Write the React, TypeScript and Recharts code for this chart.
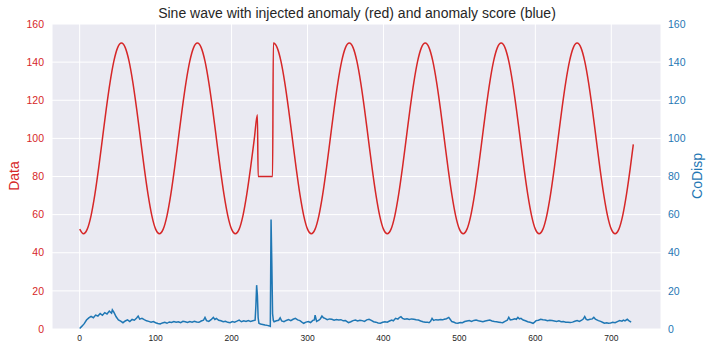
import { LineChart, Line, XAxis, YAxis, CartesianGrid } from "recharts";

// sine wave (t, value), every 5 steps plus the injected block
const sineData: [number, number][] = [
  [0, 52.4], [5, 50], [10, 52.4], [15, 59.5], [20, 70.6], [25, 84.5], [30, 100], [35, 115.5], [40, 129.4], [45, 140.5],
  [50, 147.6], [55, 150], [60, 147.6], [65, 140.5], [70, 129.4], [75, 115.5], [80, 100], [85, 84.5], [90, 70.6], [95, 59.5],
  [100, 52.4], [105, 50], [110, 52.4], [115, 59.5], [120, 70.6], [125, 84.5], [130, 100], [135, 115.5], [140, 129.4], [145, 140.5],
  [150, 147.6], [155, 150], [160, 147.6], [165, 140.5], [170, 129.4], [175, 115.5], [180, 100], [185, 84.5], [190, 70.6], [195, 59.5],
  [200, 52.4], [205, 50], [210, 52.4], [215, 59.5], [220, 70.6], [225, 84.5], [230, 100], [234, 112.4], [235, 80], [240, 80],
  [245, 80], [250, 80], [254, 80], [255, 150], [260, 147.6], [265, 140.5], [270, 129.4], [275, 115.5], [280, 100], [285, 84.5],
  [290, 70.6], [295, 59.5],
  [300, 52.4], [305, 50], [310, 52.4], [315, 59.5], [320, 70.6], [325, 84.5], [330, 100], [335, 115.5], [340, 129.4], [345, 140.5],
  [350, 147.6], [355, 150], [360, 147.6], [365, 140.5], [370, 129.4], [375, 115.5], [380, 100], [385, 84.5], [390, 70.6], [395, 59.5],
  [400, 52.4], [405, 50], [410, 52.4], [415, 59.5], [420, 70.6], [425, 84.5], [430, 100], [435, 115.5], [440, 129.4], [445, 140.5],
  [450, 147.6], [455, 150], [460, 147.6], [465, 140.5], [470, 129.4], [475, 115.5], [480, 100], [485, 84.5], [490, 70.6], [495, 59.5],
  [500, 52.4], [505, 50], [510, 52.4], [515, 59.5], [520, 70.6], [525, 84.5], [530, 100], [535, 115.5], [540, 129.4], [545, 140.5],
  [550, 147.6], [555, 150], [560, 147.6], [565, 140.5], [570, 129.4], [575, 115.5], [580, 100], [585, 84.5], [590, 70.6], [595, 59.5],
  [600, 52.4], [605, 50], [610, 52.4], [615, 59.5], [620, 70.6], [625, 84.5], [630, 100], [635, 115.5], [640, 129.4], [645, 140.5],
  [650, 147.6], [655, 150], [660, 147.6], [665, 140.5], [670, 129.4], [675, 115.5], [680, 100], [685, 84.5], [690, 70.6], [695, 59.5],
  [700, 52.4], [705, 50], [710, 52.4], [715, 59.5], [720, 70.6], [725, 84.5], [729, 96.9],
];

// anomaly score (t, CoDisp)
const codispData: [number, number][] = [
  [0, 0.3], [3, 1.5], [6, 2.8], [9, 4.7], [12, 5.8], [15, 6.6], [18, 5.9], [21, 7.3], [24, 6.8], [27, 8.1],
  [30, 7.2], [33, 8.6], [36, 7.9], [39, 9.4], [42, 8.3], [43, 10.0], [45, 8.8], [48, 6.4], [51, 4.8], [54, 4.1],
  [57, 3.3], [60, 4.2], [63, 4.8], [66, 3.9], [69, 5.0], [72, 4.6], [75, 5.8], [77, 6.8], [79, 5.2], [82, 5.6],
  [85, 4.9], [88, 4.3], [91, 4.0], [94, 3.6], [97, 3.9], [100, 3.3], [103, 2.9], [106, 2.6], [109, 3.2], [112, 3.5],
  [115, 3.0], [118, 3.7], [121, 3.4], [124, 3.9], [127, 3.5], [130, 3.8], [133, 3.3], [136, 4.0], [139, 3.8], [142, 3.4],
  [145, 3.9], [148, 3.6], [151, 4.1], [154, 3.7], [157, 3.5], [160, 4.2], [163, 4.6], [165, 6.1], [167, 4.4], [170, 4.0],
  [173, 4.9], [176, 6.1], [178, 5.0], [180, 5.5], [183, 4.6], [186, 4.3], [189, 3.8], [192, 4.0], [195, 3.5], [198, 3.3],
  [201, 3.9], [204, 3.6], [207, 4.1], [210, 4.7], [213, 3.8], [216, 4.3], [219, 3.9], [222, 4.4], [225, 4.0], [228, 4.3],
  [231, 4.6], [232, 12], [233, 23.0], [234, 17.5], [235, 6.0], [236, 3.0], [238, 2.6], [241, 2.4], [244, 2.1], [247, 1.9],
  [250, 1.6], [251, 1.4], [252, 57.5], [253, 34.5], [254, 8], [255, 4.5], [256, 3.8], [259, 4.3], [262, 4.6], [264, 5.9],
  [266, 4.2], [269, 3.8], [272, 4.5], [275, 4.9], [278, 4.4], [281, 5.1], [284, 5.6], [287, 4.8], [290, 4.4], [293, 3.5],
  [295, 3.0], [298, 3.6], [301, 3.9], [304, 3.4], [307, 4.5], [309, 4.8], [310, 7.3], [312, 4.0], [315, 4.6], [317, 5.4],
  [319, 6.8], [321, 5.9], [323, 5.6], [326, 4.9], [329, 5.3], [332, 5.1], [335, 4.6], [338, 5.0], [341, 4.7], [344, 4.9],
  [347, 4.3], [350, 4.4], [352, 3.9], [354, 3.3], [357, 3.8], [360, 4.4], [363, 4.7], [366, 4.2], [369, 4.6], [372, 4.4],
  [375, 4.0], [378, 4.8], [381, 5.1], [384, 4.5], [387, 3.8], [390, 3.6], [393, 3.2], [396, 3.0], [399, 3.5], [402, 3.8],
  [405, 3.6], [408, 4.2], [411, 4.7], [413, 4.3], [416, 5.6], [419, 5.2], [421, 6.0], [423, 6.5], [425, 5.6], [428, 5.1],
  [431, 5.4], [434, 5.0], [437, 5.3], [440, 5.1], [443, 4.8], [446, 4.7], [449, 4.2], [452, 3.8], [455, 3.5], [458, 3.6],
  [460, 3.3], [462, 4.0], [464, 5.6], [466, 4.5], [469, 4.9], [472, 4.7], [475, 5.0], [478, 4.8], [480, 5.1], [483, 5.4],
  [486, 6.1], [488, 5.0], [490, 3.9], [493, 3.5], [495, 3.2], [498, 3.0], [501, 3.4], [504, 3.3], [507, 3.9], [510, 4.2],
  [513, 4.4], [516, 4.0], [519, 4.5], [522, 4.7], [525, 4.3], [528, 4.1], [531, 3.8], [534, 4.2], [537, 4.5], [540, 4.7],
  [543, 4.2], [546, 3.9], [549, 3.8], [552, 3.6], [555, 3.4], [557, 3.3], [560, 4.0], [563, 4.6], [565, 6.1], [567, 4.8],
  [570, 5.0], [573, 5.4], [575, 5.1], [577, 6.1], [579, 5.3], [581, 5.6], [584, 4.7], [587, 4.3], [590, 3.8], [593, 3.5],
  [595, 3.3], [597, 3.0], [599, 3.6], [601, 4.4], [604, 4.6], [607, 5.1], [610, 4.8], [613, 4.7], [616, 4.3], [619, 4.6],
  [622, 4.4], [625, 4.2], [628, 4.0], [631, 4.3], [634, 3.8], [637, 3.9], [640, 3.6], [643, 3.5], [646, 3.4], [649, 3.6],
  [652, 4.1], [655, 4.4], [658, 4.0], [661, 4.6], [663, 5.2], [665, 6.5], [667, 5.0], [669, 4.7], [672, 5.1], [675, 5.3],
  [677, 6.1], [679, 5.2], [681, 4.8], [683, 4.4], [686, 4.0], [689, 3.4], [691, 3.0], [694, 3.3], [696, 3.0], [699, 3.2],
  [702, 3.5], [705, 3.3], [708, 3.9], [711, 4.4], [714, 4.1], [716, 4.7], [718, 4.3], [721, 5.1], [723, 4.4], [725, 3.9],
  [726, 3.5],
];

const xTicks = [0, 100, 200, 300, 400, 500, 600, 700];
const yTicks = [0, 20, 40, 60, 80, 100, 120, 140, 160];

const RED = "#d62728";
const BLUE = "#1f77b4";
const FONT = "'Liberation Sans', Arial, sans-serif";

const W = 712;
const H = 352;

export default function App() {
  const sine = sineData.map(([t, v]) => ({ t, v }));
  const codisp = codispData.map(([t, v]) => ({ t, v }));

  return (
    <div style={{ position: "absolute", left: 0, top: 0, width: W, height: H, fontFamily: FONT }}>
      <LineChart width={W} height={H} margin={{ top: 24, right: 0, bottom: 0, left: 0 }}>
        <CartesianGrid yAxisId="left" fill="#eaeaf2" stroke="#ffffff" strokeWidth={1} />
        <XAxis
          dataKey="t"
          type="number"
          domain={[-36.45, 765.45]}
          ticks={xTicks}
          allowDataOverflow
          height={23}
          axisLine={false}
          tickLine={false}
          tickSize={0}
          tickMargin={6}
          tick={{ fill: "#262626", fontSize: 8.5, fontFamily: FONT }}
        />
        <YAxis
          yAxisId="left"
          orientation="left"
          domain={[0, 160]}
          ticks={yTicks}
          width={52}
          axisLine={false}
          tickLine={false}
          tickSize={0}
          tickMargin={8}
          tick={{ fill: RED, fontSize: 10.5, fontFamily: FONT }}
        />
        <YAxis
          yAxisId="right"
          orientation="right"
          domain={[0, 160]}
          ticks={yTicks}
          width={51}
          axisLine={false}
          tickLine={false}
          tickSize={0}
          tickMargin={7}
          tick={{ fill: BLUE, fontSize: 10.5, fontFamily: FONT }}
        />
        <Line
          yAxisId="left"
          data={sine}
          dataKey="v"
          type="monotone"
          stroke={RED}
          strokeWidth={1.5}
          dot={false}
          isAnimationActive={false}
        />
        <Line
          yAxisId="right"
          data={codisp}
          dataKey="v"
          type="linear"
          stroke={BLUE}
          strokeWidth={1.5}
          dot={false}
          isAnimationActive={false}
        />
      </LineChart>
      <svg width={W} height={H} style={{ position: "absolute", left: 0, top: 0, pointerEvents: "none" }}>
        <text x={357} y={18} textAnchor="middle" fontSize={14} fill="#262626" fontFamily={FONT}>
          Sine wave with injected anomaly (red) and anomaly score (blue)
        </text>
        <text x={19} y={176} textAnchor="middle" fontSize={14} fill={RED} fontFamily={FONT} transform="rotate(-90 19 176)">
          Data
        </text>
        <text x={702} y={176} textAnchor="middle" fontSize={14} fill={BLUE} fontFamily={FONT} transform="rotate(-90 702 176)">
          CoDisp
        </text>
      </svg>
    </div>
  );
}
